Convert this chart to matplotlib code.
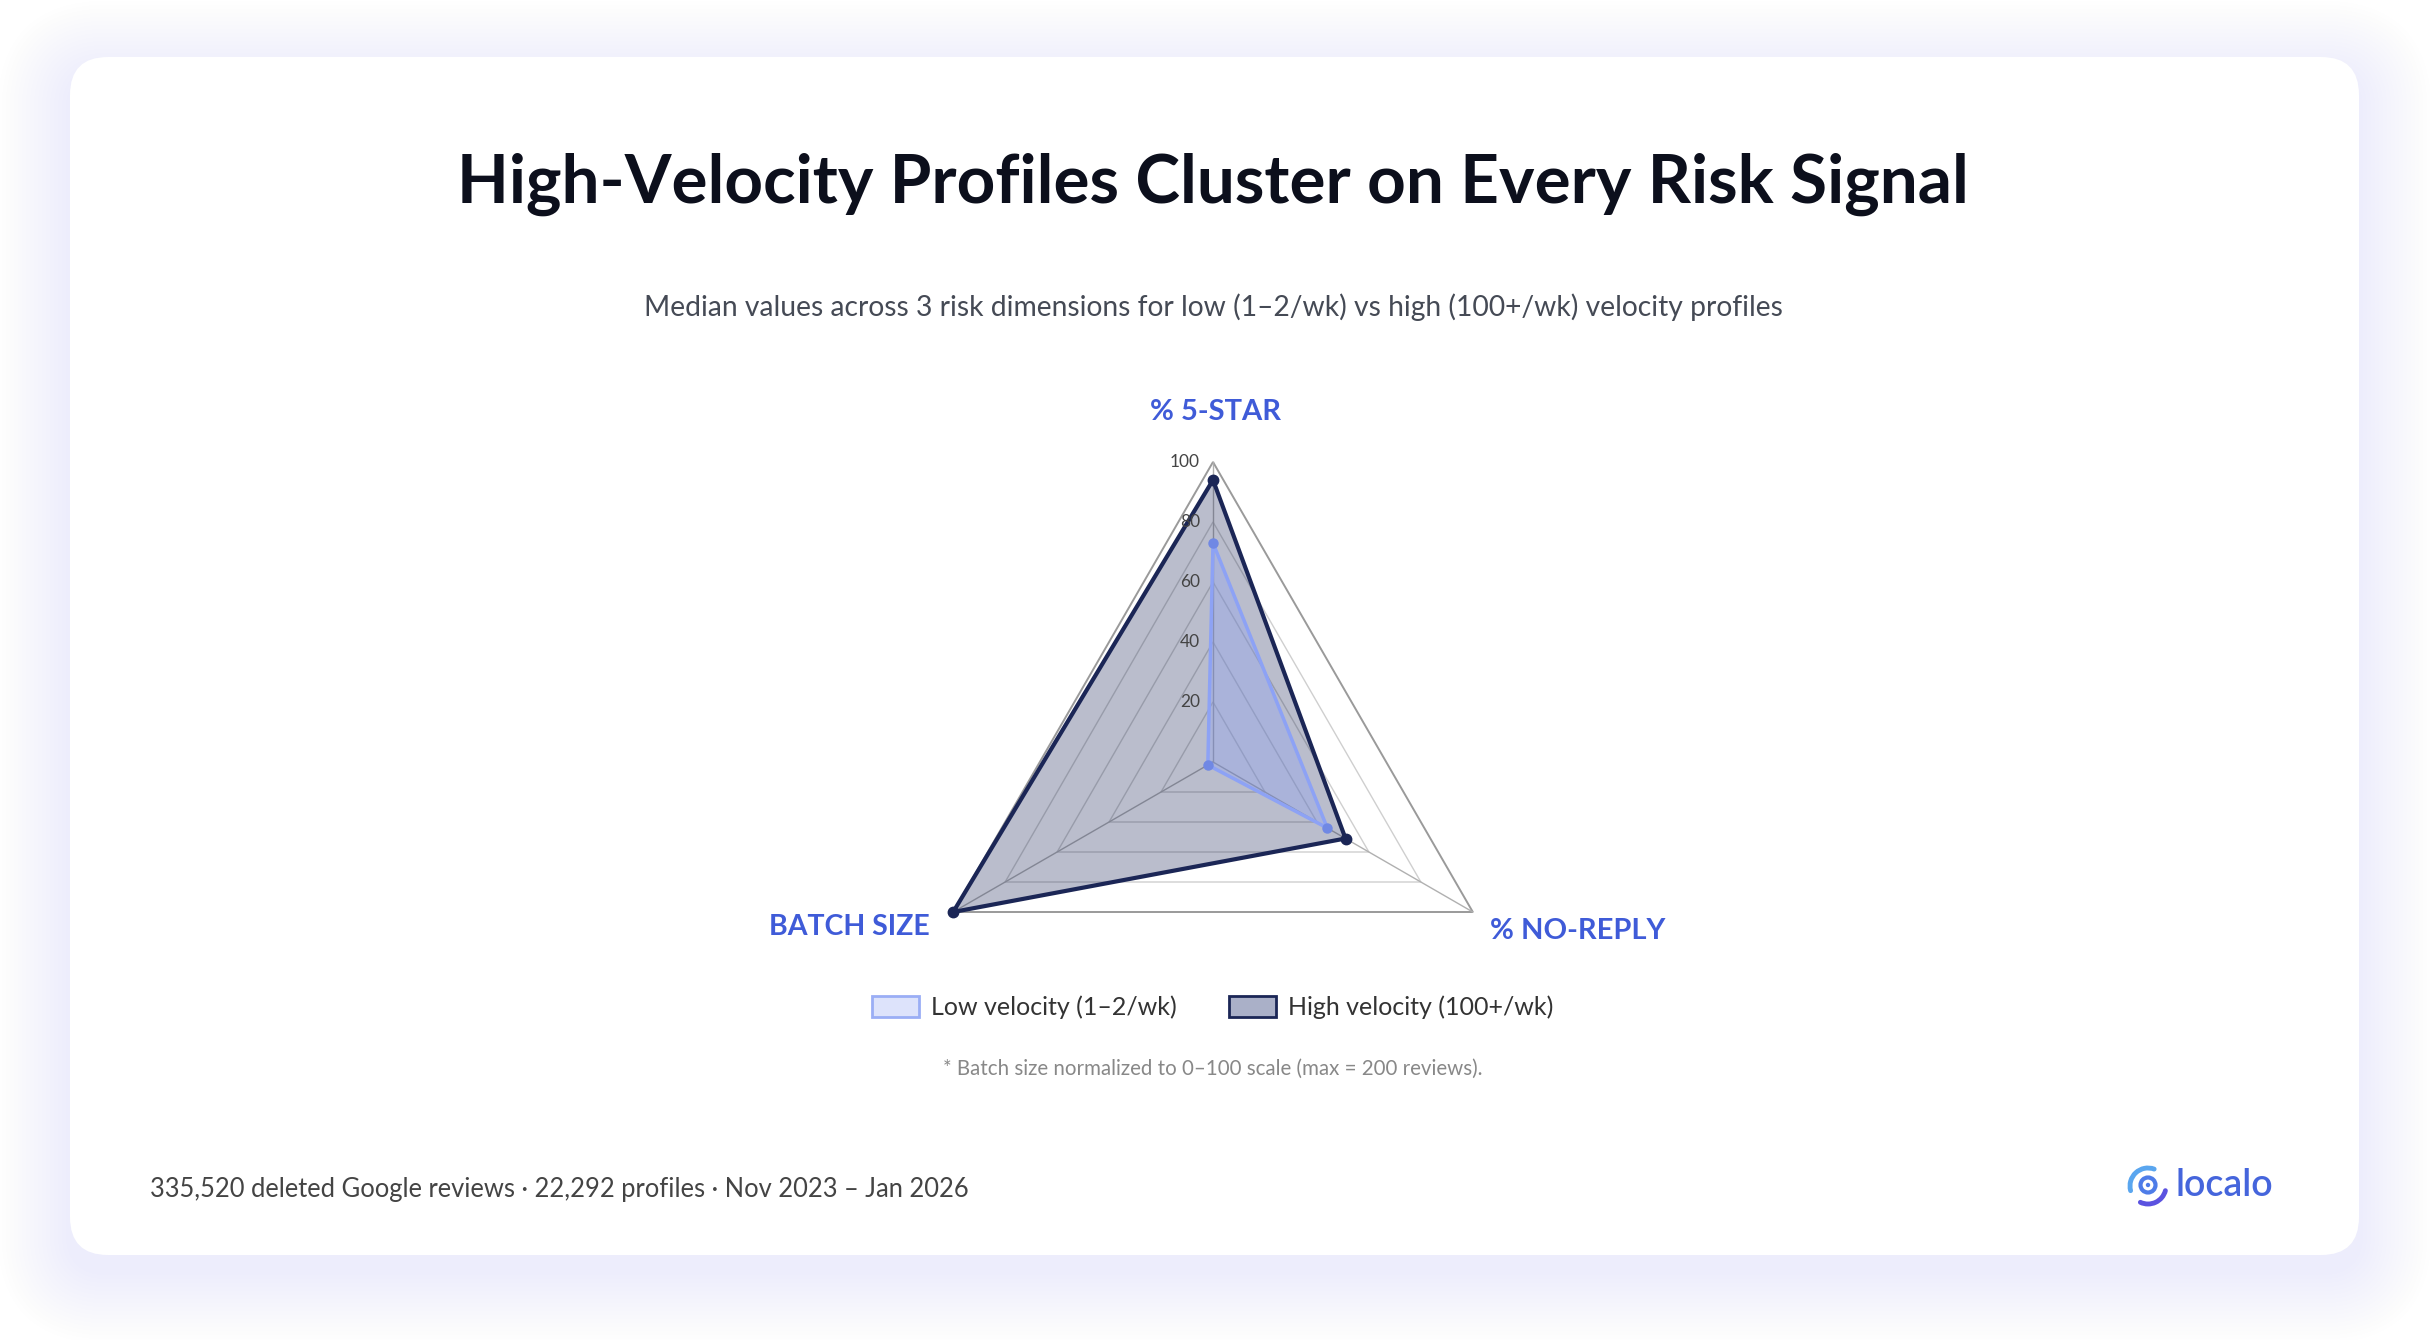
import numpy as np
import matplotlib.pyplot as plt
from matplotlib.patches import FancyBboxPatch, Polygon, Patch, Arc, Circle

plt.rcParams['font.family'] = ['Lato', 'DejaVu Sans']

# ---- data ----
AXES = ['% 5-STAR', '% NO-REPLY', 'BATCH SIZE']
LOW = [73, 44, 2]
HIGH = [94, 51, 100]
RINGS = [20, 40, 60, 80, 100]
SERIES = ['Low velocity (1–2/wk)', 'High velocity (100+/wk)']

TITLE = 'High-Velocity Profiles Cluster on Every Risk Signal'
SUBTITLE = ('Median values across 3 risk dimensions for low (1–2/wk) vs high '
            '(100+/wk) velocity profiles')
FOOTNOTE = '* Batch size normalized to 0–100 scale (max = 200 reviews).'
FOOTER = '335,520 deleted Google reviews · 22,292 profiles · Nov 2023 – Jan 2026'

# colours
NAVY = '#1b2656'
PERI = '#8da2f5'
LABEL_BLUE = '#3f5bd8'

W, H = 2430, 1340
fig = plt.figure(figsize=(W / 100, H / 100), dpi=100)
ax = fig.add_axes([0, 0, 1, 1])
ax.set_xlim(0, W)
ax.set_ylim(H, 0)
ax.axis('off')

# ---- card with soft shadow ----
cx0, cy0, cw, ch = 70, 57, 2289, 1198
for i in range(18, 0, -1):
    g = 4 * i
    ax.add_patch(FancyBboxPatch((cx0 - g, cy0 - g + 16), cw + 2 * g, ch + 2 * g,
                                boxstyle=f'round,pad=0,rounding_size={38 + g}',
                                fc='#e3e8fc', ec='none', alpha=0.035, zorder=0))
ax.add_patch(FancyBboxPatch((cx0, cy0), cw, ch, boxstyle='round,pad=0,rounding_size=38',
                            fc='white', ec='none', zorder=1))

# ---- texts ----
ax.text(1213, 184, TITLE, ha='center', va='center', fontsize=48.5, fontweight='bold',
        color='#0c0f1c', zorder=5)
ax.text(1213, 307, SUBTITLE, ha='center', va='center', fontsize=20.3, color='#454a55', zorder=5)

# ---- radar ----
cx, cy, R = 1213, 762, 300
n = len(AXES)
ang = np.deg2rad(np.arange(n) * 360 / n)


def to_xy(vals):
    v = np.asarray(vals, dtype=float) / 100 * R
    return np.column_stack([cx + v * np.sin(ang), cy - v * np.cos(ang)])


for r in RINGS:
    outer = r == RINGS[-1]
    ax.add_patch(Polygon(to_xy([r] * n), closed=True, fill=False,
                         ec='#9a9a9a' if outer else '#cfcfcf',
                         lw=1.4 if outer else 1.0, zorder=2))
    ax.text(cx - 13, cy - R * r / 100, str(r), ha='right', va='center',
            fontsize=12.5, color='#444444', zorder=6)
for p in to_xy([100] * n):
    ax.plot([cx, p[0]], [cy, p[1]], color='#b0b0b0', lw=1.0, zorder=2)

hp = to_xy(HIGH)
ax.add_patch(Polygon(hp, closed=True, fc=NAVY, alpha=0.3, ec='none', zorder=3))
ax.add_patch(Polygon(hp, closed=True, fill=False, ec=NAVY, lw=3, zorder=4))
ax.plot(hp[:, 0], hp[:, 1], 'o', color=NAVY, ms=7.5, zorder=5)

lp = to_xy(LOW)
ax.add_patch(Polygon(lp, closed=True, fc=PERI, alpha=0.35, ec='none', zorder=3.5))
ax.add_patch(Polygon(lp, closed=True, fill=False, ec=PERI, lw=2.5, zorder=4.5))
ax.plot(lp[:, 0], lp[:, 1], 'o', color='#7088e4', ms=6.5, zorder=5.5)

# axis labels
vt = to_xy([100] * n)
ax.text(vt[0, 0] + 2, vt[0, 1] - 50, AXES[0], ha='center', va='center', fontsize=21,
        fontweight='bold', color=LABEL_BLUE, zorder=6)
ax.text(vt[1, 0] + 17, vt[1, 1] + 19, AXES[1], ha='left', va='center', fontsize=21,
        fontweight='bold', color=LABEL_BLUE, zorder=6)
ax.text(vt[2, 0] - 23, vt[2, 1] + 15, AXES[2], ha='right', va='center', fontsize=20.5,
        fontweight='bold', color=LABEL_BLUE, zorder=6)

# legend
handles = [Patch(fc='#dde3fb', ec='#9aaef5', lw=2, label=SERIES[0]),
           Patch(fc='#aab0c8', ec=NAVY, lw=2, label=SERIES[1])]
fig.legend(handles=handles, loc='center', bbox_to_anchor=(1213 / W, 1 - 1007 / H), ncol=2,
           frameon=False, fontsize=18, handlelength=1.85, handleheight=0.9,
           handletextpad=0.5, columnspacing=2.1, labelcolor='#333333')

ax.text(1213, 1069, FOOTNOTE, ha='center', va='center', fontsize=14.8, color='#888888', zorder=5)
ax.text(150, 1190, FOOTER, ha='left', va='center', fontsize=18.4, color='#444444', zorder=5)

# ---- logo ----
lx, ly = 2148, 1186
ax.add_patch(Arc((lx, ly), 36, 36, theta1=165, theta2=290, color='#5aa6ef', lw=3.5,
                 capstyle='round', zorder=6))
ax.add_patch(Arc((lx, ly), 36, 36, theta1=15, theta2=115, color='#5b52e0', lw=3.5,
                 capstyle='round', zorder=6))
ax.add_patch(Circle((lx, ly - 1), 7.5, fill=False, ec='#4e7ce8', lw=3, zorder=6))
ax.add_patch(Circle((lx, ly - 1), 2.2, fc='#4e7ce8', ec='none', zorder=6))
ax.text(2176, 1185, 'localo', ha='left', va='center', fontsize=27, fontweight='semibold',
        color='#4565dc', zorder=6)

fig.savefig('out.png', dpi=100)
